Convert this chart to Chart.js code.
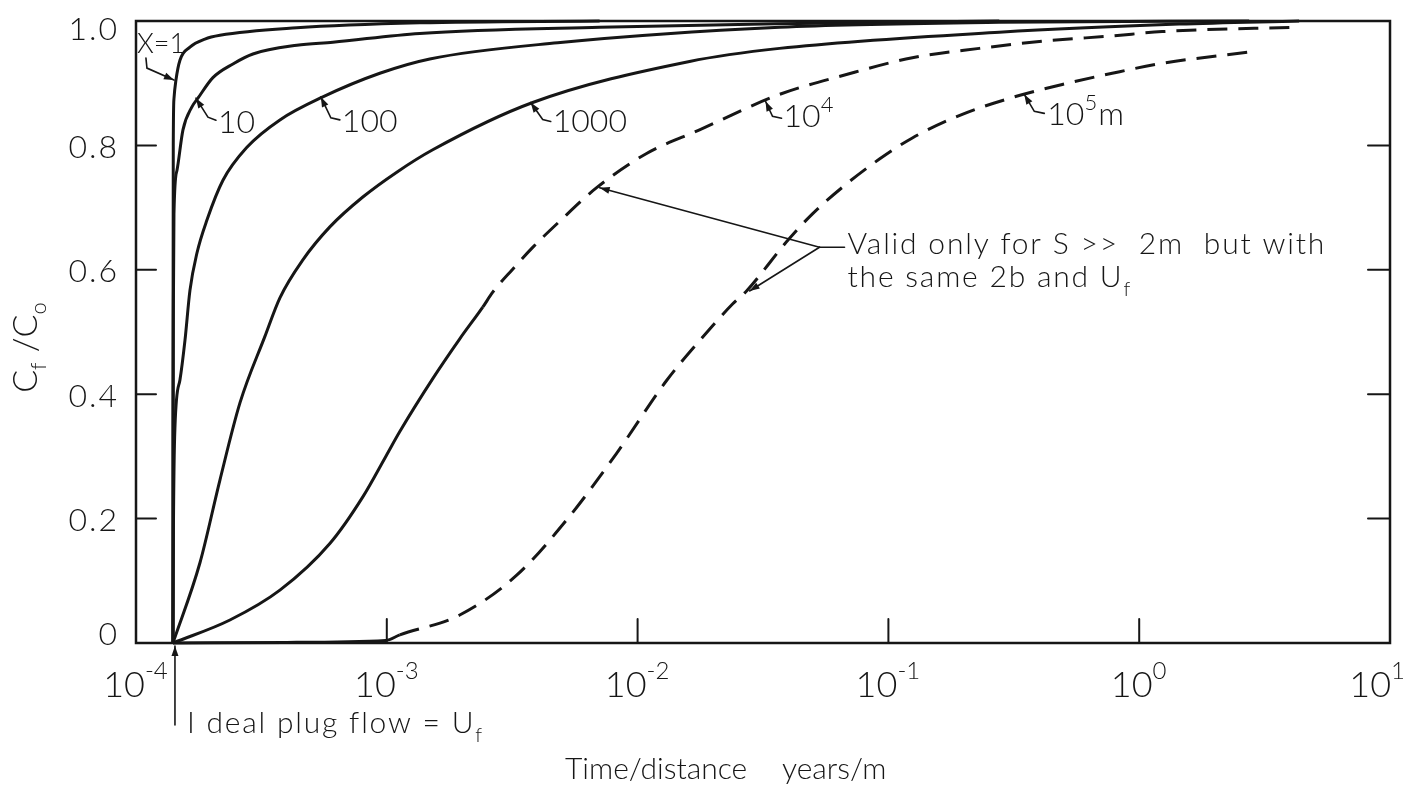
<!DOCTYPE html>
<html>
<head>
<meta charset="utf-8">
<title>Breakthrough curves</title>
<script src="https://cdn.jsdelivr.net/npm/chart.js@4.4.1/dist/chart.umd.min.js"></script>
<style>
  html, body { margin: 0; background: #fff; }
  #wrap { position: relative; width: 1416px; height: 792px; }
</style>
</head>
<body>
<div id="wrap"><canvas id="plot"></canvas></div>
<script>
// time/distance (years/m) and relative concentration Cf/Co for each path length X
const tX1 = [1.404e-4, 1.405e-4, 1.408e-4, 1.417e-4, 1.443e-4, 1.497e-4, 1.641e-4, 1.883e-4, 2.161e-4, 4.379e-4, 1.353e-3, 7.056e-3];
const cX1 = [0, 0.45, 0.80, 0.875, 0.905, 0.937, 0.958, 0.971, 0.977, 0.989, 0.997, 1.0];

const tX10 = [1.404e-4, 1.406e-4, 1.410e-4, 1.417e-4, 1.457e-4, 1.539e-4, 1.671e-4, 1.766e-4, 2.026e-4, 2.435e-4, 2.925e-4, 4.379e-4, 6.095e-4, 1.353e-3, 7.056e-3, 4.42e-2, 0.2768];
const cX10 = [0, 0.36, 0.55, 0.69, 0.76, 0.825, 0.862, 0.876, 0.909, 0.931, 0.947, 0.961, 0.966, 0.980, 0.990, 0.996, 1.0];

const tX100 = [1.404e-4, 1.410e-4, 1.430e-4, 1.497e-4, 1.568e-4, 1.641e-4, 1.750e-4, 1.918e-4, 2.222e-4, 2.769e-4, 3.748e-4, 5.559e-4, 9.38e-4, 1.484e-3, 4.8e-3, 3.679e-2, 0.2768, 2.744];
const cX100 = [0, 0.18, 0.347, 0.423, 0.487, 0.567, 0.627, 0.680, 0.744, 0.797, 0.841, 0.878, 0.916, 0.939, 0.965, 0.990, 0.998, 1.0];

const tX1000 = [1.404e-4, 1.799e-4, 2.161e-4, 2.597e-4, 3.266e-4, 3.748e-4, 4.627e-4, 5.929e-4, 8.024e-4, 1.096e-3, 1.525e-3, 3.817e-3, 1.611e-2, 3.679e-2, 0.2768, 1.443, 4.341];
const cX1000 = [0, 0.129, 0.262, 0.386, 0.493, 0.555, 0.616, 0.669, 0.717, 0.757, 0.793, 0.869, 0.935, 0.956, 0.982, 0.995, 1.0];

const tX1e4 = [1.404e-4, 2.369e-4, 3.748e-4, 5.929e-4, 8.024e-4, 9.91e-4, 1.127e-3, 1.525e-3, 1.954e-3, 2.413e-3, 2.645e-3, 3.177e-3, 3.817e-3, 4.89e-3, 6.866e-3, 1.086e-2, 1.766e-2, 3.679e-2, 6.803e-2, 0.1246, 0.2305, 0.4262, 0.7805, 1.235, 4.341];
const cX1e4 = [0, 0.037, 0.085, 0.16, 0.235, 0.30, 0.34, 0.425, 0.489, 0.54, 0.564, 0.601, 0.636, 0.678, 0.732, 0.787, 0.825, 0.882, 0.914, 0.941, 0.956, 0.968, 0.976, 0.983, 0.990];

const tX1e5 = [1.404e-4, 4.0e-4, 9.91e-4, 1.127e-3, 1.954e-3, 3.296e-3, 5.215e-3, 8.247e-3, 1.305e-2, 1.766e-2, 2.391e-2, 2.719e-2, 3.924e-2, 4.98e-2, 6.803e-2, 9.21e-2, 0.1246, 0.1971, 0.3119, 0.4934, 0.7805, 1.235, 2.744];
const cX1e5 = [0, 0.001, 0.004, 0.013, 0.045, 0.109, 0.198, 0.305, 0.422, 0.486, 0.545, 0.566, 0.645, 0.690, 0.738, 0.778, 0.812, 0.850, 0.877, 0.898, 0.916, 0.932, 0.950];

// the long-path curves are only valid for S >> 2m: dashed from these times on
const dashFrom = [Infinity, Infinity, Infinity, Infinity, 2.413e-3, 1.0e-3];

const xExponents = [-4, -3, -2, -1, 0, 1];
const yTicks = [0, 0.2, 0.4, 0.6, 0.8, 1.0];
const yTickLabels = ['0', '0.2', '0.4', '0.6', '0.8', '1.0'];

const INK = '#161616';
const FACE = 'Lato, "DejaVu Sans", sans-serif';
const DASH = [20, 11];

const font = (size) => `300 ${size}px ${FACE}`;

const series = [
    [tX1, cX1], [tX10, cX10], [tX100, cX100],
    [tX1000, cX1000], [tX1e4, cX1e4], [tX1e5, cX1e5],
];

const datasets = series.map(([t, c], i) => ({
    data: t.map((v, k) => ({ x: v, y: c[k] })),
    borderColor: INK,
    borderWidth: 3,
    pointRadius: 0,
    fill: false,
    cubicInterpolationMode: 'monotone',
    clip: 6,
    segment: {
        borderDash: (ctx) => (ctx.p0.parsed.x >= dashFrom[i] ? DASH : []),
    },
}));

// curve labels: arrow tip on the curve (data units), leader bends and text offset in px
const notes = [
    { runs: [['X=1', 27]], tip: [1.443e-4, 0.905], bends: [[-27, -12], [-28, -22]], at: [-37, -27] },
    { runs: [['10', 32]], tip: [1.766e-4, 0.876], bends: [[12, 19], [20, 22]], at: [22, 35] },
    { runs: [['100', 32]], tip: [5.559e-4, 0.878], bends: [[10, 21], [19, 23]], at: [21, 35] },
    { runs: [['1000', 32]], tip: [3.817e-3, 0.869], bends: [[12, 17], [20, 19]], at: [22, 30] },
    { runs: [['10', 32], ['4', 22, -15]], tip: [3.296e-2, 0.871], bends: [[7, 15], [16, 17]], at: [18, 26] },
    { runs: [['10', 32], ['5', 22, -15], ['m', 32]], tip: [0.3547, 0.882], bends: [[10, 17], [20, 19]], at: [23, 31] },
];

const validTips = [[6.866e-3, 0.732], [2.719e-2, 0.566]];
const validAt = [0.0687, 0.625];

function line(ctx, x1, y1, x2, y2) {
    ctx.beginPath();
    ctx.moveTo(x1, y1);
    ctx.lineTo(x2, y2);
    ctx.stroke();
}

function drawRuns(ctx, x, y, runs) {
    let cx = x;
    runs.forEach(([t, size, dy = 0]) => {
        ctx.font = font(size);
        ctx.fillText(t, cx, y + dy);
        cx += ctx.measureText(t).width + (dy ? 1 : 0);
    });
    return cx - x;
}

function runsWidth(ctx, runs) {
    return runs.reduce((w, [t, size, dy = 0]) => {
        ctx.font = font(size);
        return w + ctx.measureText(t).width + (dy ? 1 : 0);
    }, 0);
}

// leader from the far end to the tip, with a small arrow head at the tip
function leader(ctx, pts) {
    ctx.beginPath();
    ctx.moveTo(pts[pts.length - 1][0], pts[pts.length - 1][1]);
    for (let i = pts.length - 2; i >= 0; i--) {
        ctx.lineTo(pts[i][0], pts[i][1]);
    }
    ctx.stroke();
    const [tx, ty] = pts[0];
    const [fx, fy] = pts[1];
    const ang = Math.atan2(ty - fy, tx - fx);
    const len = 10;
    const half = 3.5;
    const bx = tx - len * Math.cos(ang);
    const by = ty - len * Math.sin(ang);
    ctx.beginPath();
    ctx.moveTo(tx, ty);
    ctx.lineTo(bx + half * Math.sin(ang), by - half * Math.cos(ang));
    ctx.lineTo(bx - half * Math.sin(ang), by + half * Math.cos(ang));
    ctx.closePath();
    ctx.fill();
}

const drawing = {
    id: 'drawing',
    afterDatasetsDraw(chart) {
        const { ctx, chartArea: a, scales: { x, y } } = chart;
        const px = (v) => x.getPixelForValue(v);
        const py = (v) => y.getPixelForValue(v);
        ctx.save();
        ctx.strokeStyle = INK;
        ctx.fillStyle = INK;
        ctx.lineCap = 'round';

        // frame and inward ticks
        ctx.lineWidth = 2.5;
        ctx.strokeRect(a.left, a.top, a.right - a.left, a.bottom - a.top);
        ctx.lineWidth = 2;
        yTicks.forEach((v) => {
            if (v === 0 || v === 1) return;
            line(ctx, a.left, py(v), a.left + 20, py(v));
            line(ctx, a.right - 22, py(v), a.right, py(v));
        });
        xExponents.slice(1, -1).forEach((e) => {
            const xx = px(Math.pow(10, e));
            line(ctx, xx, a.bottom, xx, a.bottom - 24);
        });

        // y tick labels
        ctx.letterSpacing = '2px';
        ctx.textAlign = 'right';
        ctx.textBaseline = 'middle';
        ctx.font = font(32);
        yTicks.forEach((v, i) => {
            const yy = Math.min(Math.max(py(v) + 2, a.top + 9), a.bottom - 8);
            ctx.fillText(yTickLabels[i], a.left - 17, yy);
        });

        // x tick labels: 10 with the exponent raised
        ctx.letterSpacing = '0px';
        ctx.textAlign = 'left';
        ctx.textBaseline = 'alphabetic';
        xExponents.forEach((e) => {
            const runs = [['10', 36], [e < 0 ? '-' + (-e) : String(e), 24, -18]];
            const w = runsWidth(ctx, runs);
            const left = Math.min(px(Math.pow(10, e)) - w / 2, chart.width - w - 10);
            drawRuns(ctx, left, a.bottom + 54, runs);
        });

        // axis titles
        const midX = (a.left + a.right) / 2;
        ctx.font = font(30);
        ctx.fillText('Time/distance', midX - 198, a.bottom + 136);
        ctx.fillText('years/m', midX + 19, a.bottom + 136);

        ctx.save();
        ctx.translate(a.left - 99, (a.top + a.bottom) / 2 + 15);
        ctx.rotate(-Math.PI / 2);
        const yTitle = [['C', 34], ['f', 22, 9], [' /', 34], ['C', 34], ['o', 22, 9]];
        drawRuns(ctx, -runsWidth(ctx, yTitle) / 2, 0, yTitle);
        ctx.restore();

        // curve labels with leaders
        ctx.lineWidth = 1.6;
        notes.forEach((n) => {
            const tx = px(n.tip[0]) - 2;
            const ty = py(n.tip[1]);
            const pts = [[tx, ty], ...n.bends.map(([dx, dy]) => [tx + dx, ty + dy])];
            leader(ctx, pts);
            drawRuns(ctx, tx + n.at[0], ty + n.at[1], n.runs);
        });

        // validity note pointing at the two long-path curves
        const vx = px(validAt[0]);
        const vy = py(validAt[1]);
        const jx = vx - 28;
        const jy = vy - 7;
        validTips.forEach(([tv, cv]) => {
            leader(ctx, [[px(tv) + 3, py(cv)], [jx, jy]]);
        });
        line(ctx, jx, jy, vx - 3, jy);
        ctx.letterSpacing = '1.8px';
        drawRuns(ctx, vx, vy, [['Valid only for S >>  2m  but with', 30]]);
        drawRuns(ctx, vx, vy + 33, [['the same 2b and U', 30], ['f', 20, 9]]);

        // ideal plug flow marker under the common starting point
        const ax = px(tX1[0]) + 2;
        leader(ctx, [[ax, a.bottom + 3], [ax, a.bottom + 82]]);
        drawRuns(ctx, ax + 12, a.bottom + 90, [['I deal plug flow = U', 30], ['f', 20, 9]]);
        ctx.letterSpacing = '0px';

        ctx.restore();
    },
};

new Chart(document.getElementById('plot'), {
    type: 'line',
    data: { datasets },
    options: {
        responsive: true,
        maintainAspectRatio: false,
        devicePixelRatio: 1,
        animation: false,
        layout: { padding: { left: 136, right: 26, top: 21, bottom: 149 } },
        plugins: {
            legend: { display: false },
            tooltip: { enabled: false },
        },
        scales: {
            x: { type: 'logarithmic', min: 1e-4, max: 10, display: false },
            y: { type: 'linear', min: 0, max: 1, display: false },
        },
    },
    plugins: [drawing],
});
</script>
</body>
</html>
